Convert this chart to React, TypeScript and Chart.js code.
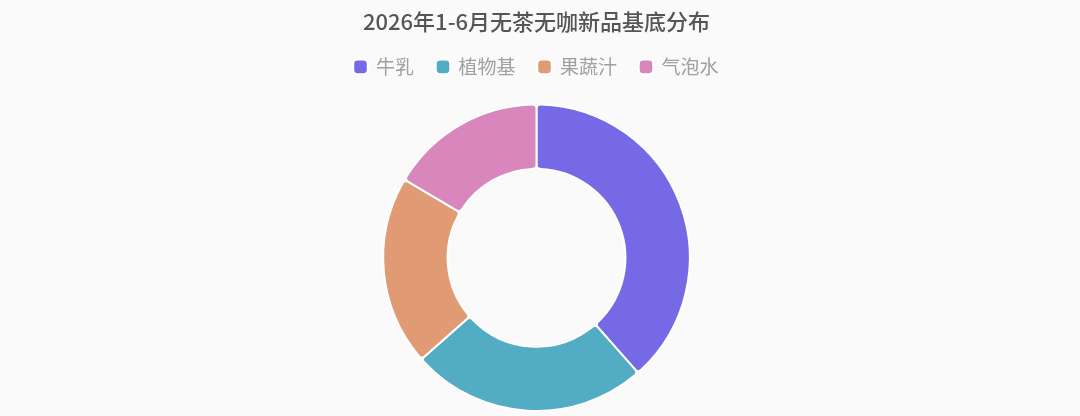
import { useEffect, useRef } from "react";
import { Chart, registerables } from "chart.js";

Chart.register(...registerables);

const categories = ["牛乳", "植物基", "果蔬汁", "气泡水"];
const shares = [38.5, 25, 20, 16.5];
const colors = ["#7669E6", "#52ACC4", "#E09B74", "#D986BD"];

// 图例下方多留一点空白
const legendGap = {
  id: "legendGap",
  beforeInit(chart: any) {
    const fit = chart.legend.fit;
    chart.legend.fit = function () {
      fit.bind(chart.legend)();
      this.height += 17;
    };
  },
};

export default function App() {
  const canvasRef = useRef<HTMLCanvasElement>(null);

  useEffect(() => {
    document.body.style.margin = "0";
    document.body.style.background = "#FAFAFA";
    if (!canvasRef.current) return;
    const chart = new Chart(canvasRef.current, {
      type: "doughnut",
      data: {
        labels: categories,
        datasets: [
          {
            data: shares,
            backgroundColor: colors,
            borderColor: "#FFFFFF",
            borderWidth: 2,
            borderRadius: 4,
          },
        ],
      },
      options: {
        animation: false,
        responsive: true,
        maintainAspectRatio: false,
        cutout: "58%",
        layout: { padding: { top: 0, bottom: 4, right: 7 } },
        plugins: {
          title: {
            display: true,
            text: "2026年1-6月无茶无咖新品基底分布",
            color: "#555555",
            font: { family: "'Noto Sans CJK SC', 'Noto Sans'", size: 22, weight: 500 },
            padding: { top: 8, bottom: 0 },
          },
          legend: {
            position: "top",
            labels: {
              color: "#A0A0A0",
              font: { family: "'Noto Sans CJK SC', 'Noto Sans'", size: 19 },
              usePointStyle: true,
              pointStyle: "rectRounded",
              boxWidth: 12,
              boxHeight: 12,
              padding: 23,
            },
          },
          tooltip: { enabled: false },
        },
      },
      plugins: [legendGap],
    });
    return () => chart.destroy();
  }, []);

  return (
    <div style={{ width: 1080, height: 416, background: "#FAFAFA" }}>
      <canvas ref={canvasRef} />
    </div>
  );
}
